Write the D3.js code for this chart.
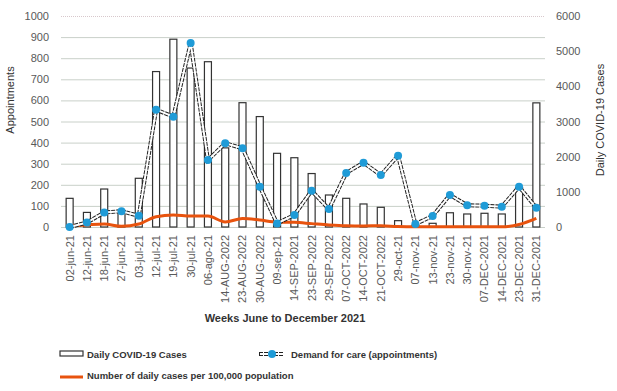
<!DOCTYPE html>
<html lang="en">
<head>
<meta charset="UTF-8">
<title>Demand for care vs daily COVID-19 cases</title>
<script src="https://d3js.org/d3.v7.min.js"></script>
<style>
    body { margin: 0; background: #fff; font-family: "Liberation Sans", Arial, sans-serif; }
    svg { display: block; }
    .tick text { fill: #595959; font-size: 11px; }
    .legend text { font-size: 9.5px; font-weight: bold; fill: #333; }
</style>
</head>
<body>
<div id="container"></div>
<script>
    // weeks (x categories)
    const weeks = ['02-jun-21','12-jun-21','18-jun-21','27-jun-21','03-jul-21','12-jul-21','19-jul-21','30-jul-21',
        '06-ago-21','14-AUG-2022','23-AUG-2022','30-AUG-2022','09-sep-21','14-SEP-2021','23-SEP-2022','29-SEP-2022',
        '07-OCT-2022','14-OCT-2022','21-OCT-2022','29-oct-21','07-nov-21','13-nov-21','23-nov-21','30-nov-21',
        '07-DEC-2021','14-DEC-2021','23-DEC-2021','31-DEC-2021'];

    // daily covid cases (right axis, bars)
    const dailyCases = [815,415,1080,470,1385,4420,5340,4520,4700,2250,3535,3140,2095,1970,1520,910,
        816,655,560,180,50,105,405,370,390,370,1120,3530];

    // demand for care, appointments (left axis)
    const demand = [0,21,69,75,53,556,523,872,317,397,373,191,17,57,172,85,
        256,305,246,338,14,52,152,103,101,96,191,91];

    // cases per 100,000 population (left axis)
    const per100k = [5,10,14,3,14,49,57,52,52,24,40,33,23,22,16,10,
        6,5,6,2,1,1,1,1,1,1,12,41];

    const leftTicks = d3.range(0, 1001, 100);
    const rightTicks = d3.range(0, 6001, 1000);

    const width = 617, height = 391;
    const plotLeft = 61, plotRight = 545, plotTop = 16, plotBottom = 227;

    const svg = d3.select('#container').append('svg')
        .attr('width', width).attr('height', height);

    const x = d3.scaleBand().domain(weeks).range([plotLeft, plotRight]).padding(0);
    const yLeft = d3.scaleLinear().domain([0, 1000]).range([plotBottom, plotTop]);
    const yRight = d3.scaleLinear().domain([0, 6000]).range([plotBottom, plotTop]);

    // gridlines
    svg.append('g')
        .selectAll('line')
        .data(leftTicks).enter()
        .append('line')
        .attr('x1', plotLeft).attr('x2', plotRight)
        .attr('y1', d => yLeft(d) + 0.5).attr('y2', d => yLeft(d) + 0.5)
        .attr('stroke', d => d == 1000 ? '#d8c8cc' : '#c9d0c9')
        .attr('stroke-dasharray', d => d == 1000 ? '1,1' : null)
        .attr('stroke-width', 1);

    // left axis
    const leftAxis = svg.append('g')
        .attr('transform', 'translate(' + (plotLeft - 12) + ',0)')
        .call(d3.axisLeft(yLeft).tickValues(leftTicks).tickFormat(d3.format('d')).tickSize(0).tickPadding(0));
    leftAxis.select('.domain').remove();

    // right axis
    const rightAxis = svg.append('g')
        .attr('transform', 'translate(' + (plotRight + 11) + ',0)')
        .call(d3.axisRight(yRight).tickValues(rightTicks).tickFormat(d3.format('d')).tickSize(0).tickPadding(0));
    rightAxis.select('.domain').remove();

    // x axis labels
    const xAxis = svg.append('g')
        .attr('transform', 'translate(0,' + (plotBottom + 6) + ')')
        .call(d3.axisBottom(x).tickSize(0).tickPadding(0));
    xAxis.select('.domain').remove();
    xAxis.selectAll('text')
        .attr('transform', 'rotate(-90)')
        .attr('text-anchor', 'end')
        .attr('x', -2)
        .attr('y', 0)
        .attr('dy', '0.35em');

    // axis titles
    svg.append('text')
        .attr('transform', 'translate(14,' + 100 + ') rotate(-90)')
        .attr('text-anchor', 'middle')
        .style('font-size', '11px').style('fill', '#333')
        .text('Appointments');

    svg.append('text')
        .attr('transform', 'translate(604,' + 120 + ') rotate(-90)')
        .attr('text-anchor', 'middle')
        .style('font-size', '11px').style('fill', '#333')
        .text('Daily COVID-19 Cases');

    svg.append('text')
        .attr('x', 285).attr('y', 322)
        .attr('text-anchor', 'middle')
        .style('font-size', '11px').style('font-weight', 'bold').style('fill', '#333')
        .text('Weeks June to December 2021');

    // bars
    const barW = 7;
    svg.append('g')
        .selectAll('rect')
        .data(dailyCases).enter()
        .append('rect')
        .attr('x', (d, i) => x(weeks[i]) + x.bandwidth() / 2 - barW / 2)
        .attr('y', d => yRight(d))
        .attr('width', barW)
        .attr('height', d => plotBottom - yRight(d))
        .attr('fill', '#fff')
        .attr('stroke', '#333')
        .attr('stroke-width', 1.2);

    const cx = (d, i) => x(weeks[i]) + x.bandwidth() / 2;

    // orange line
    const orangeLine = d3.line()
        .x(cx)
        .y(d => yLeft(d))
        .curve(d3.curveMonotoneX);

    svg.append('path')
        .datum(per100k)
        .attr('d', orangeLine)
        .attr('fill', 'none')
        .attr('stroke', '#e8530e')
        .attr('stroke-width', 3);

    // demand line (outlined white line)
    const demandLine = d3.line().x(cx).y(d => yLeft(d));

    svg.append('path')
        .datum(demand)
        .attr('d', demandLine)
        .attr('fill', 'none')
        .attr('stroke', '#222')
        .attr('stroke-width', 4)
        .attr('stroke-dasharray', '4,1');

    svg.append('path')
        .datum(demand)
        .attr('d', demandLine)
        .attr('fill', 'none')
        .attr('stroke', '#fff')
        .attr('stroke-width', 2);

    svg.append('g')
        .selectAll('circle')
        .data(demand).enter()
        .append('circle')
        .attr('cx', cx)
        .attr('cy', d => yLeft(d))
        .attr('r', 4)
        .attr('fill', '#1f9bd7');

    // legend
    const legend = svg.append('g').attr('class', 'legend');

    legend.append('rect')
        .attr('x', 60).attr('y', 351).attr('width', 23).attr('height', 5)
        .attr('fill', '#fff').attr('stroke', '#333').attr('stroke-width', 1.2);
    legend.append('text').attr('x', 87).attr('y', 358).text('Daily COVID-19 Cases');

    legend.append('line')
        .attr('x1', 259).attr('x2', 284).attr('y1', 354).attr('y2', 354)
        .attr('stroke', '#222').attr('stroke-width', 4).attr('stroke-dasharray', '4,1');
    legend.append('line')
        .attr('x1', 260).attr('x2', 283).attr('y1', 354).attr('y2', 354)
        .attr('stroke', '#fff').attr('stroke-width', 2);
    legend.append('circle').attr('cx', 272).attr('cy', 354).attr('r', 4).attr('fill', '#1f9bd7');
    legend.append('text').attr('x', 291).attr('y', 358).text('Demand for care (appointments)');

    legend.append('line')
        .attr('x1', 60).attr('x2', 83).attr('y1', 377).attr('y2', 377)
        .attr('stroke', '#e8530e').attr('stroke-width', 3);
    legend.append('text').attr('x', 87).attr('y', 379).text('Number of daily cases per 100,000 population');
</script>
</body>
</html>
